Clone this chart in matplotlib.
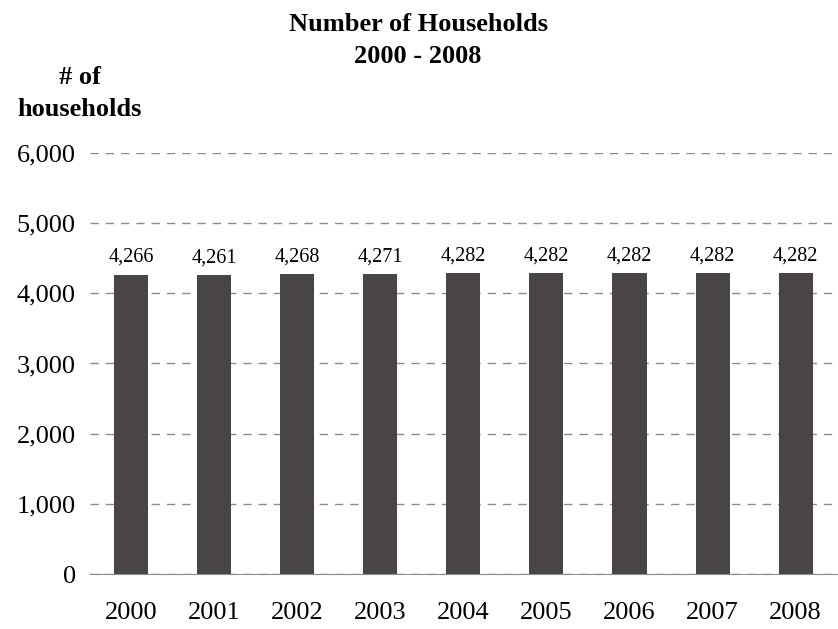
import numpy as np
from matplotlib import pyplot as plt
from matplotlib.ticker import FuncFormatter

years = ["2000", "2001", "2002", "2003", "2004", "2005", "2006", "2007", "2008"]
households = [4266, 4261, 4268, 4271, 4282, 4282, 4282, 4282, 4282]

c_bar = "#4a4545"
c_grid = "#8c8c8c"

plt.rcParams["font.family"] = ["Liberation Serif", "DejaVu Serif"]

fig = plt.figure(figsize=(8.38, 6.29), dpi=100)
ax = fig.add_axes([0.107, 0.0874, 0.892, 0.6695])

x = np.arange(len(years))
ax.bar(x, households, width=0.41, color=c_bar, zorder=3)
for xi, v in zip(x, households):
    ax.text(xi, v + 110, f"{v:,}", ha="center", va="bottom", fontsize=14.5)

ax.set_xlim(-0.5, len(years) - 0.5)
ax.set_ylim(0, 6000)
ax.set_yticks(np.arange(0, 6001, 1000))
ax.yaxis.set_major_formatter(FuncFormatter(lambda v, p: f"{int(v):,}"))
ax.set_xticks(x)
ax.set_xticklabels(years)
ax.tick_params(axis="both", length=0, labelsize=19)
ax.tick_params(axis="y", pad=10)
ax.tick_params(axis="x", pad=20)

ax.grid(axis="y", color=c_grid, linestyle=(0, (6, 5)), linewidth=1, zorder=0)
for s in ["left", "right", "top"]:
    ax.spines[s].set_visible(False)
ax.spines["bottom"].set_color(c_grid)
ax.spines["bottom"].set_zorder(4)

fig.text(0.499, 0.98, "Number of Households\n2000 - 2008", ha="center", va="top",
         fontsize=19, fontweight="bold", linespacing=1.5)
fig.text(0.0955, 0.895, "# of\nhouseholds", ha="center", va="top",
         fontsize=19, fontweight="bold", linespacing=1.5)

plt.savefig("out.png")
